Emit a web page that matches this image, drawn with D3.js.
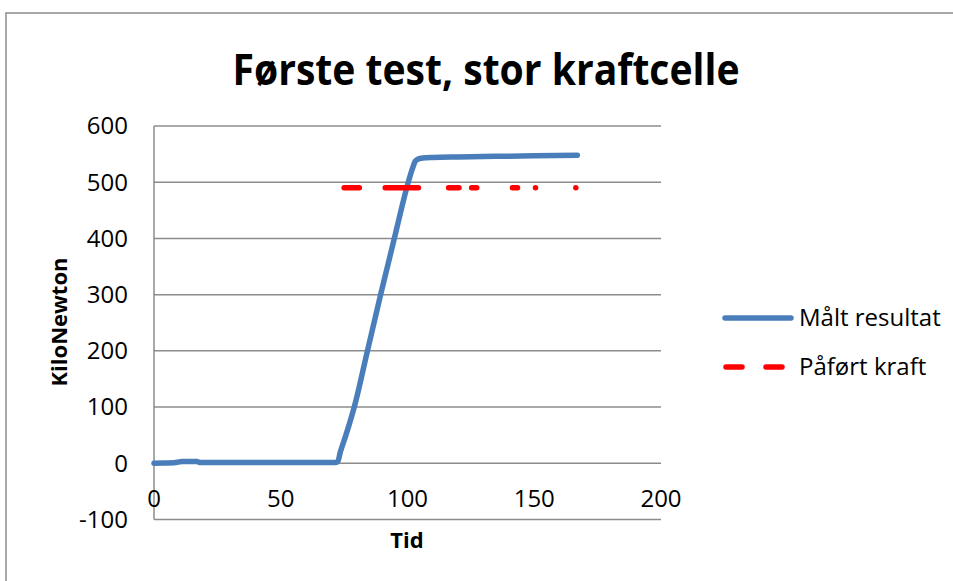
<!DOCTYPE html>
<html>
<head>
<meta charset="utf-8">
<script src="https://cdn.jsdelivr.net/npm/d3@7"></script>
<style>
  body { margin: 0; background: #fff; }
  text { font-family: "Open Sans", sans-serif; fill: #000; }
</style>
</head>
<body>
<script>
// chart data
var maltTid = [0, 4, 8, 10, 11, 17, 18, 30, 50, 71.5, 72.5, 73.5, 75.7, 79, 84.2, 89.4, 94.8, 100.3, 102, 103, 104, 106, 110, 120, 135, 150, 167];
var maltKN  = [0, 0.5, 1, 2.5, 3, 3, 1.5, 1.5, 1.5, 1.5, 3, 20, 50, 100, 200, 300, 400, 500, 525, 537, 541, 543, 544, 545, 546, 547, 548];

// påført kraft, only logged in pieces (start/stop of each piece)
var paafortStart = [75, 91.2, 116.2, 125.3, 141.4, 150.5, 166.4];
var paafortSlutt = [81, 104.3, 120.3, 127.3, 143.4, 150.5, 166.4];
var paafortKN = 490;

var yTicks = [600, 500, 400, 300, 200, 100, 0, -100];
var xTicks = [0, 50, 100, 150, 200];
var seriesNames = ["Målt resultat", "Påført kraft"];

var width = 953, height = 581;
var blue = "#4a7ebb", red = "#ff0000", grid = "#8c8c8c";

var svg = d3.select("body").append("svg")
    .attr("width", width)
    .attr("height", height);

// outer chart border (runs off the bottom and right of the window)
svg.append("rect")
    .attr("x", 6).attr("y", 13)
    .attr("width", 1000).attr("height", 600)
    .attr("fill", "none")
    .attr("stroke", grid)
    .attr("stroke-width", 1.5);

var x = d3.scaleLinear().domain([0, 200]).range([154, 661]);
var y = d3.scaleLinear().domain([-100, 600]).range([519.5, 126]);

// title
svg.append("text")
    .attr("x", 486).attr("y", 85)
    .attr("text-anchor", "middle")
    .attr("font-weight", "bold")
    .attr("font-size", 43)
    .attr("textLength", 507)
    .attr("lengthAdjust", "spacingAndGlyphs")
    .text("Første test, stor kraftcelle");

// horizontal gridlines
svg.append("g").selectAll("line")
    .data(yTicks)
    .enter().append("line")
    .attr("x1", x(0)).attr("x2", x(200))
    .attr("y1", function (d) { return y(d); })
    .attr("y2", function (d) { return y(d); })
    .attr("stroke", grid)
    .attr("stroke-width", 1.5);

// vertical axis line
svg.append("line")
    .attr("x1", x(0)).attr("x2", x(0))
    .attr("y1", y(600)).attr("y2", y(-100))
    .attr("stroke", grid)
    .attr("stroke-width", 1.5);

// y tick labels
svg.append("g").selectAll("text")
    .data(yTicks)
    .enter().append("text")
    .attr("x", 128)
    .attr("y", function (d) { return y(d); })
    .attr("dy", "0.35em")
    .attr("text-anchor", "end")
    .attr("font-size", 24)
    .text(function (d) { return d; });

// x tick labels, sitting under the 0 line
svg.append("g").selectAll("text")
    .data(xTicks)
    .enter().append("text")
    .attr("x", function (d) { return x(d); })
    .attr("y", 507)
    .attr("text-anchor", "middle")
    .attr("font-size", 24)
    .text(function (d) { return d; });

// axis titles
svg.append("text")
    .attr("transform", "translate(67,322) rotate(-90)")
    .attr("text-anchor", "middle")
    .attr("font-weight", "bold")
    .attr("font-size", 22)
    .text("KiloNewton");

svg.append("text")
    .attr("x", 407).attr("y", 548)
    .attr("text-anchor", "middle")
    .attr("font-weight", "bold")
    .attr("font-size", 22)
    .text("Tid");

// målt resultat
var maltData = maltTid.map(function (t, i) { return { t: t, v: maltKN[i] }; });
var line = d3.line()
    .x(function (d) { return x(d.t); })
    .y(function (d) { return y(d.v); })
    .curve(d3.curveMonotoneX);

svg.append("path")
    .datum(maltData)
    .attr("d", line)
    .attr("fill", "none")
    .attr("stroke", blue)
    .attr("stroke-width", 5.5)
    .attr("stroke-linejoin", "round")
    .attr("stroke-linecap", "round");

// påført kraft pieces
var paafortData = paafortStart.map(function (s, i) { return { a: s, b: paafortSlutt[i] }; });
svg.append("g").selectAll("path")
    .data(paafortData)
    .enter().append("path")
    .attr("d", function (d) {
        return "M" + x(d.a) + "," + y(paafortKN) + "L" + x(d.b) + "," + y(paafortKN);
    })
    .attr("fill", "none")
    .attr("stroke", red)
    .attr("stroke-width", 5.5)
    .attr("stroke-linecap", "round");

// legend
var legend = svg.append("g");
var legendY = [318, 367];
legend.selectAll("line")
    .data(seriesNames)
    .enter().append("line")
    .attr("x1", 725).attr("x2", 791)
    .attr("y1", function (d, i) { return legendY[i]; })
    .attr("y2", function (d, i) { return legendY[i]; })
    .attr("stroke", function (d, i) { return i == 0 ? blue : red; })
    .attr("stroke-width", 5.5)
    .attr("stroke-linecap", "round")
    .attr("stroke-dasharray", function (d, i) { return i == 0 ? null : "16,24"; })
    .attr("transform", function (d, i) { return i == 0 ? null : "translate(1,0)"; });

legend.selectAll("text")
    .data(seriesNames)
    .enter().append("text")
    .attr("x", 799)
    .attr("y", function (d, i) { return legendY[i]; })
    .attr("dy", "0.35em")
    .attr("font-size", 24)
    .text(function (d) { return d; });
</script>
</body>
</html>
